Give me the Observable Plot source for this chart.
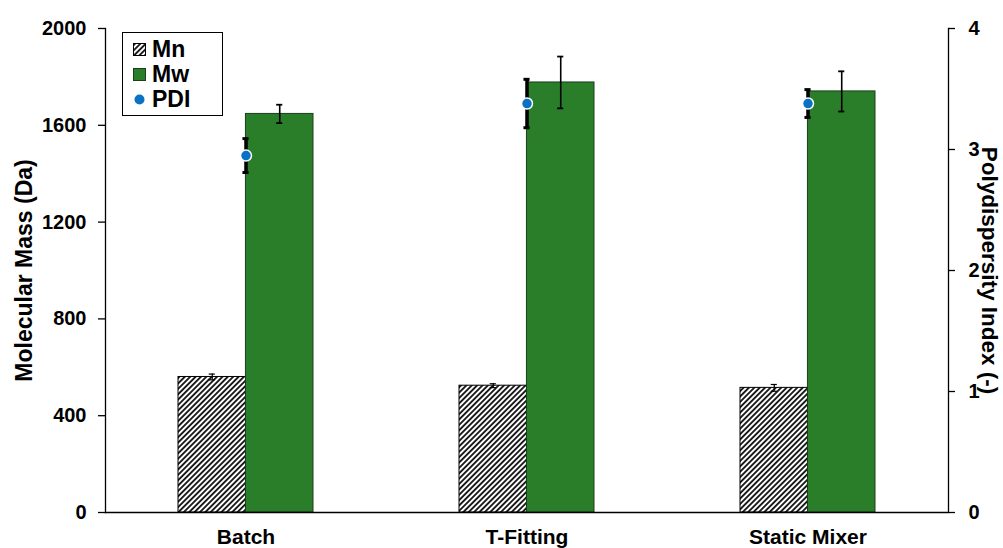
<!DOCTYPE html>
<html>
<head>
<meta charset="utf-8">
<script src="https://cdn.jsdelivr.net/npm/d3@7"></script>
<script src="https://cdn.jsdelivr.net/npm/@observablehq/plot@0.6"></script>
<style>
  html, body { margin: 0; padding: 0; background: #fff; }
  #wrap { position: relative; width: 1003px; height: 548px; font-family: "Liberation Sans", Arial, sans-serif; }
  #legend { position: absolute; left: 122px; top: 32px; width: 99px; height: 82px; border: 1.5px solid #000; background: #fff; box-sizing: content-box; }
  .li { position: absolute; left: 0; height: 24px; display: flex; align-items: center; font-weight: bold; font-size: 23px; color: #000; }
  .li svg { display: block; }
</style>
</head>
<body>
<div id="wrap"></div>
<script>
// ---- data ----
const categories = ["Batch", "T-Fitting", "Static Mixer"];
const mnValues = [560, 524, 515];
const mnErrors = [12, 8, 14];
const mwValues = [1647, 1777, 1740];
const mwErrors = [38, 107, 83];
const pdiValues = [2.95, 3.38, 3.38];
const pdiErrors = [0.14, 0.2, 0.115];
const leftTicks = [0, 400, 800, 1200, 1600, 2000];
const rightTicks = [0, 1, 2, 3, 4];
const seriesNames = ["Mn", "Mw", "PDI"];

// ---- layout ----
const W = 1003, H = 548, ML = 105, MR = 55, MT = 28, MB = 36;
const padInner = 0.52;
const step = (W - ML - MR) / categories.length;
const bw = step * (1 - padInner);
const k = 2000 / 4; // PDI -> left scale factor

const GREEN = "#2a7e2a";
const BLUE = "#0a72c2";

const rows = categories.map((c, i) => ({
  cat: c, mn: mnValues[i], mnErr: mnErrors[i],
  mw: mwValues[i], mwErr: mwErrors[i],
  pdi: pdiValues[i] * k, pdiErr: pdiErrors[i] * k
}));

const cap = 3;
const plot = Plot.plot({
  width: W, height: H,
  marginLeft: ML, marginRight: MR, marginTop: MT, marginBottom: MB,
  style: { fontFamily: "'Liberation Sans', Arial, sans-serif", fontWeight: "bold", fontSize: "20px", color: "#000", background: "#fff" },
  x: { domain: categories, paddingInner: padInner, paddingOuter: padInner / 2, align: 0.5 },
  y: { domain: [0, 2000] },
  marks: [
    // bars
    Plot.barY(rows, { x: "cat", y: "mn", fill: "url(#hatchMn)", stroke: "#000", strokeWidth: 1, insetRight: bw / 2 }),
    Plot.barY(rows, { x: "cat", y: "mw", fill: GREEN, stroke: "#1d3d1d", strokeWidth: 1, insetLeft: bw / 2 }),
    // Mn error bars
    Plot.ruleX(rows, { x: "cat", y1: d => d.mn - d.mnErr, y2: d => d.mn + d.mnErr, dx: -bw / 4, stroke: "#000", strokeWidth: 1.2 }),
    Plot.tickY(rows, { x: "cat", y: d => d.mn + d.mnErr, insetLeft: bw / 4 - cap, insetRight: 3 * bw / 4 - cap, stroke: "#000", strokeWidth: 1.2 }),
    Plot.tickY(rows, { x: "cat", y: d => d.mn - d.mnErr, insetLeft: bw / 4 - cap, insetRight: 3 * bw / 4 - cap, stroke: "#000", strokeWidth: 1.2 }),
    // Mw error bars
    Plot.ruleX(rows, { x: "cat", y1: d => d.mw - d.mwErr, y2: d => d.mw + d.mwErr, dx: bw / 4, stroke: "#000", strokeWidth: 1.6 }),
    Plot.tickY(rows, { x: "cat", y: d => d.mw + d.mwErr, insetLeft: 3 * bw / 4 - cap, insetRight: bw / 4 - cap, stroke: "#000", strokeWidth: 1.8 }),
    Plot.tickY(rows, { x: "cat", y: d => d.mw - d.mwErr, insetLeft: 3 * bw / 4 - cap, insetRight: bw / 4 - cap, stroke: "#000", strokeWidth: 1.8 }),
    // PDI error bars + dots
    Plot.ruleX(rows, { x: "cat", y1: d => d.pdi - d.pdiErr, y2: d => d.pdi + d.pdiErr, stroke: "#000", strokeWidth: 3.5 }),
    Plot.tickY(rows, { x: "cat", y: d => d.pdi + d.pdiErr, insetLeft: bw / 2 - cap, insetRight: bw / 2 - cap, stroke: "#000", strokeWidth: 3 }),
    Plot.tickY(rows, { x: "cat", y: d => d.pdi - d.pdiErr, insetLeft: bw / 2 - cap, insetRight: bw / 2 - cap, stroke: "#000", strokeWidth: 3 }),
    Plot.dot(rows, { x: "cat", y: "pdi", r: 5.5, fill: BLUE, stroke: "#fff", strokeWidth: 1.5 }),
    // axes
    Plot.ruleY([0], { stroke: "#000", strokeWidth: 1.3 }),
    Plot.frame({ anchor: "left", stroke: "#000", strokeWidth: 1.3 }),
    Plot.frame({ anchor: "right", stroke: "#000", strokeWidth: 1.3 }),
    Plot.axisY({ anchor: "left", ticks: leftTicks, tickFormat: d => String(d), tickSize: 7, tickPadding: 12, label: null, stroke: "#000", strokeWidth: 1.3, fontSize: 20 }),
    Plot.axisY({ anchor: "right", ticks: rightTicks.map(t => t * k), tickFormat: d => String(d / k), tickSize: 6, tickPadding: 14, label: null, stroke: "#000", strokeWidth: 1.3, fontSize: 20 }),
    Plot.axisX({ anchor: "bottom", tickSize: 0, tickPadding: 17, label: null, fontSize: 21 }),
    Plot.text(["Molecular Mass (Da)"], { text: d => d, frameAnchor: "left", textAnchor: "middle", rotate: -90, dx: -81, fontSize: 23, fontWeight: "bold", fill: "#000" }),
    Plot.text(["Polydispersity Index (-)"], { text: d => d, frameAnchor: "right", textAnchor: "middle", rotate: 90, dx: 41, fontSize: 22.5, fontWeight: "bold", fill: "#000" })
  ]
});

// hatch pattern for Mn
const defs = document.createElementNS("http://www.w3.org/2000/svg", "defs");
defs.innerHTML = `<pattern id="hatchMn" patternUnits="userSpaceOnUse" width="3.8" height="3.8" patternTransform="rotate(45)">
  <rect width="3.8" height="3.8" fill="#fff"></rect>
  <line x1="1.9" y1="-1" x2="1.9" y2="5" stroke="#000" stroke-width="1.7"></line>
</pattern>`;
plot.insertBefore(defs, plot.firstChild);

const wrap = document.getElementById("wrap");
wrap.appendChild(plot);

// legend
const legend = document.createElement("div");
legend.id = "legend";
const swatches = {
  Mn: `<svg width="13" height="13"><rect x="0.5" y="0.5" width="12" height="12" fill="url(#hatchMn)" stroke="#000" stroke-width="1"/></svg>`,
  Mw: `<svg width="13" height="13"><rect x="0.5" y="0.5" width="12" height="12" fill="${GREEN}" stroke="#1d3d1d" stroke-width="1"/></svg>`,
  PDI: `<svg width="13" height="13"><circle cx="6.5" cy="6.5" r="5" fill="${BLUE}"/></svg>`
};
seriesNames.forEach((name, i) => {
  const it = document.createElement("div");
  it.className = "li";
  it.style.top = (4 + i * 25) + "px";
  it.innerHTML = `<span style="width:23px;display:flex;justify-content:flex-end;margin-right:6px">${swatches[name]}</span><span>${name}</span>`;
  legend.appendChild(it);
});
wrap.appendChild(legend);
</script>
</body>
</html>
